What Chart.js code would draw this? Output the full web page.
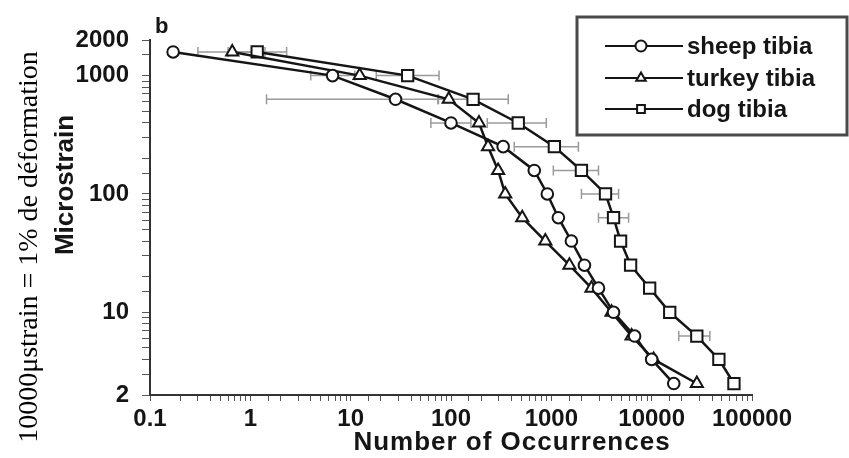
<!DOCTYPE html>
<html>
<head>
<meta charset="utf-8">
<script src="https://cdn.jsdelivr.net/npm/chart.js@4/dist/chart.umd.min.js"></script>
<style>
body{margin:0;background:#fff;}
#wrap{width:849px;height:458px;}
</style>
</head>
<body>
<div id="wrap"><canvas id="strainChart" width="849" height="458"></canvas></div>
<script>

// strain levels (microstrain) shared by all three bones
const strainLevels = [1585, 1000, 631, 398, 251, 158, 100, 63, 40, 25, 16, 10, 6.3, 4, 2.5];

// number of occurrences
const sheepCounts = [0.17, 6.6, 28, 100, 331, 676, 912, 1175, 1585, 2138, 2951, 4169, 6761, 10000, 16600];
const turkeyCounts = [0.66, 12.3, 95, 190, 234, 295, 347, 513, 871, 1514, 2512, 3981, 6310, 10471, 28200];
const dogCounts = [1.17, 37, 166, 468, 1072, 1995, 3467, 4169, 4900, 6166, 9550, 15136, 28184, 46774, 66069];

const seriesNames = ["sheep tibia", "turkey tibia", "dog tibia"];
const seriesMarkers = ["circle", "triangle", "rect"];

// horizontal error bars (grey)
const errLevel = [1585, 1585, 1000, 1000, 631, 631, 398, 398, 251, 158, 100, 63, 6.3];
const errLow = [0.3, 0.6, 4, 18, 1.45, 74, 63, 230, 427, 1047, 1995, 2951, 18621];
const errHigh = [1.4, 2.3, 11, 76, 75, 372, 158, 891, 1862, 2951, 4677, 5888, 38019];

const xTicks = [0.1, 1, 10, 100, 1000, 10000, 100000];
const yTicks = [2, 10, 100, 1000, 2000];

const INK = "#151515";
const SANS = "'Liberation Sans', Arial, sans-serif";

function pts(counts){
return counts.map((c, i) => ({x: c, y: strainLevels[i]}));
}

function marker(ctx, style, cx, cy, r){
ctx.beginPath();
if (style == "circle") {
ctx.arc(cx, cy, r, 0, Math.PI * 2);
} else if (style == "triangle") {
ctx.moveTo(cx, cy - r);
ctx.lineTo(cx + r * 0.866, cy + r * 0.5);
ctx.lineTo(cx - r * 0.866, cy + r * 0.5);
ctx.closePath();
} else {
const s = r * 0.707;
ctx.rect(cx - s, cy - s, 2 * s, 2 * s);
}
ctx.fill();
ctx.stroke();
}

const extras = {
id: "extras",
beforeDatasetsDraw(chart){
const ctx = chart.ctx, x = chart.scales.x, y = chart.scales.y;
ctx.save();
ctx.strokeStyle = "#9a9a9a";
ctx.lineWidth = 1.5;
for (let i = 0; i < errLevel.length; i++) {
const py = y.getPixelForValue(errLevel[i]);
const x1 = x.getPixelForValue(errLow[i]);
const x2 = x.getPixelForValue(errHigh[i]);
ctx.beginPath();
ctx.moveTo(x1, py); ctx.lineTo(x2, py);
ctx.moveTo(x1, py - 5); ctx.lineTo(x1, py + 5);
ctx.moveTo(x2, py - 5); ctx.lineTo(x2, py + 5);
ctx.stroke();
}
ctx.restore();
},
afterDraw(chart){
const ctx = chart.ctx;
ctx.save();
ctx.fillStyle = INK;

// panel letter
ctx.font = "bold 22px " + SANS;
ctx.textAlign = "left";
ctx.textBaseline = "middle";
ctx.fillText("b", 155, 27);

// x title
ctx.save();
ctx.textAlign = "center";
ctx.font = "bold 26px " + SANS;
ctx.letterSpacing = "1px";
ctx.fillText("Number of Occurrences", 512, 443);
ctx.restore();

// y title
ctx.save();
ctx.translate(66, 185);
ctx.rotate(-Math.PI / 2);
ctx.textAlign = "center";
ctx.font = "bold 26px " + SANS;
ctx.fillText("Microstrain", 0, 0);
ctx.restore();

// handwritten note on the left
ctx.save();
ctx.translate(30, 247);
ctx.rotate(-Math.PI / 2);
ctx.textAlign = "center";
ctx.font = "28px 'Liberation Serif', 'Times New Roman', serif";
ctx.fillStyle = "#000";
ctx.fillText("10000\u03bcstrain = 1% de d\u00e9formation", 0, 0);
ctx.restore();

// legend
ctx.strokeStyle = "#4a4a4a";
ctx.lineWidth = 3;
ctx.strokeRect(577, 17, 270, 118);
const rows = [46, 78, 109];
ctx.font = "bold 24px " + SANS;
ctx.textAlign = "left";
for (let i = 0; i < seriesNames.length; i++) {
ctx.strokeStyle = INK;
ctx.lineWidth = 2;
ctx.beginPath();
ctx.moveTo(605, rows[i]);
ctx.lineTo(683, rows[i]);
ctx.stroke();
ctx.fillStyle = "#fff";
marker(ctx, seriesMarkers[i], 641, rows[i], 5.5);
ctx.fillStyle = INK;
ctx.fillText(seriesNames[i], 687, rows[i] + 1);
}
ctx.restore();
}
};

function isDecade(v){
const l = Math.log10(v);
return Math.abs(l - Math.round(l)) < 1e-6;
}

const countSets = [sheepCounts, turkeyCounts, dogCounts];
const radii = [5.8, 7, 8];

new Chart("strainChart", {

type: "line",

data: {
datasets: countSets.map((c, i) => ({
label: seriesNames[i],
data: pts(c),
borderColor: INK,
borderWidth: 2.5,
fill: false,
tension: 0,
pointStyle: seriesMarkers[i],
pointRadius: radii[i],
pointBorderWidth: 2,
pointBorderColor: INK,
pointBackgroundColor: "#fff",
clip: false
}))
},

options: {
responsive: false,
animation: false,
layout: {padding: {left: 0, top: 40, right: 97, bottom: 0}},
plugins: {legend: {display: false}, tooltip: {enabled: false}},
scales: {
x: {
type: "logarithmic",
min: 0.1,
max: 100000,
afterFit: s => { s.height = 63; },
border: {display: true, color: "#333", width: 2},
grid: {drawOnChartArea: false, drawTicks: true, tickLength: 6, color: "#555"},
ticks: {
autoSkip: false,
maxRotation: 0,
padding: 4,
color: INK,
font: {family: SANS, size: 24, weight: "bold"},
callback: v => xTicks.includes(+v) || isDecade(v) ? String(+v) : ""
}
},
y: {
type: "logarithmic",
min: 2,
max: 2000,
afterFit: s => { s.width = 150; },
border: {display: true, color: "#333", width: 2},
grid: {drawOnChartArea: false, drawTicks: true, tickLength: 8, color: "#555"},
ticks: {
autoSkip: false,
padding: 13,
color: INK,
font: {family: SANS, size: 24, weight: "bold"},
callback: v => yTicks.includes(+v) ? String(+v) : ""
}
}
}
},

plugins: [extras]

});

</script>
</body>
</html>
